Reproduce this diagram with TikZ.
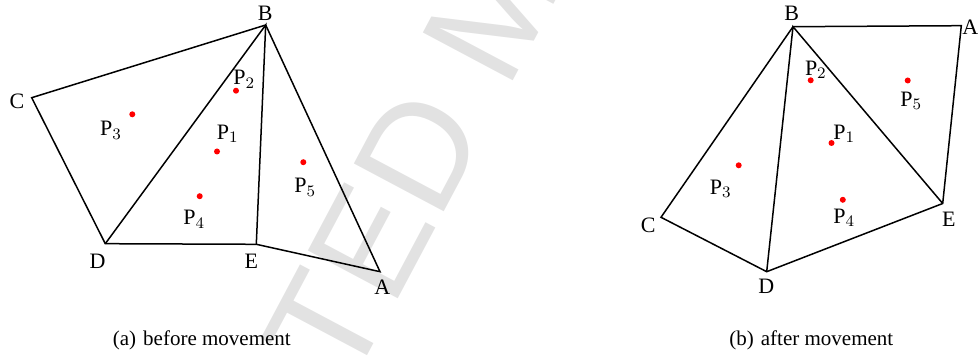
\documentclass[tikz,border=0pt]{standalone}
\usepackage{fontspec}
\setmainfont{Liberation Serif}
\newfontfamily\markfont{Liberation Sans}
\usetikzlibrary{positioning}
\definecolor{markgray}{RGB}{226,226,226}
\definecolor{dotred}{RGB}{255,0,0}

\begin{document}
\begin{tikzpicture}[x=0.5pt, y=-0.5pt,
    edge/.style={line width=0.75pt, black},
    vlabel/.style={anchor=base west, inner sep=0pt, font=\fontsize{11}{13}\selectfont},
    sublabel/.style={anchor=base west, inner sep=0pt, font=\fontsize{10.5}{12}\selectfont}]
    \useasboundingbox (0,0) rectangle (979,356);

    % Watermark
    \begin{scope}
        \clip (0,0) rectangle (979,356);
        \node[anchor=base west, inner sep=0pt, rotate=62, text=markgray, font=\markfont\fontsize{74}{74}\selectfont] (wm) at (110,840) {ACCEPTED MANUSCRIPT};
    \end{scope}

    % (a) before movement: mesh vertices
    \coordinate (aA) at (380,271.7);
    \coordinate (aB) at (265.7,25);
    \coordinate (aC) at (31.7,97.7);
    \coordinate (aD) at (105.3,243.7);
    \coordinate (aE) at (256.3,244.3);

    % Cells
    \draw[edge] (aB) -- (aC) -- (aD) -- (aE) -- (aA) -- cycle;
    \draw[edge] (aD) -- (aB) -- (aE);

    % Vertex labels
    \node[vlabel] (laA) at (374,294.5) {A};
    \node[vlabel] (laB) at (257.5,20.5) {B};
    \node[vlabel] (laC) at (9.3,108.3) {C};
    \node[vlabel] (laD) at (89.3,268.3) {D};
    \node[vlabel] (laE) at (244.3,268.3) {E};

    % Points
    \fill[dotred] (217,151.5) circle (1.5pt);
    \fill[dotred] (236,90.7) circle (1.5pt);
    \fill[dotred] (132.3,114.3) circle (1.5pt);
    \fill[dotred] (199.7,196.2) circle (1.5pt);
    \fill[dotred] (303.3,162.2) circle (1.5pt);
    \node[vlabel] (lap1) at (216.5,139.3) {P$_1$};
    \node[vlabel] (lap2) at (233,85) {P$_2$};
    \node[vlabel] (lap3) at (99.7,136) {P$_3$};
    \node[vlabel] (lap4) at (183,225) {P$_4$};
    \node[vlabel] (lap5) at (294,193) {P$_5$};

    \node[sublabel] (capa) at (112.5,345.5) {(a)\hspace{3.5pt}before movement};

    % (b) after movement: mesh vertices
    \coordinate (bA) at (961.3,25.7);
    \coordinate (bB) at (793,26.7);
    \coordinate (bC) at (661,217.3);
    \coordinate (bD) at (766.7,271.7);
    \coordinate (bE) at (942.7,203.5);

    % Cells
    \draw[edge] (bB) -- (bA) -- (bE) -- (bD) -- (bC) -- cycle;
    \draw[edge] (bD) -- (bB) -- (bE);

    % Vertex labels
    \node[vlabel] (lbA) at (962,35) {A};
    \node[vlabel] (lbB) at (784,21) {B};
    \node[vlabel] (lbC) at (640.5,232.3) {C};
    \node[vlabel] (lbD) at (758,294) {D};
    \node[vlabel] (lbE) at (941.8,226.7) {E};

    % Points
    \fill[dotred] (831.5,143) circle (1.5pt);
    \fill[dotred] (810.7,80.3) circle (1.5pt);
    \fill[dotred] (738.7,165.3) circle (1.5pt);
    \fill[dotred] (842.8,199.8) circle (1.5pt);
    \fill[dotred] (907.7,80.5) circle (1.5pt);
    \node[vlabel] (lbp1) at (833,139.5) {P$_1$};
    \node[vlabel] (lbp2) at (804.6,75.5) {P$_2$};
    \node[vlabel] (lbp3) at (709.5,194.7) {P$_3$};
    \node[vlabel] (lbp4) at (833,223.3) {P$_4$};
    \node[vlabel] (lbp5) at (900,106.4) {P$_5$};

    \node[sublabel] (capb) at (729,345.5) {(b)\hspace{3.5pt}after movement};
\end{tikzpicture}
\end{document}
